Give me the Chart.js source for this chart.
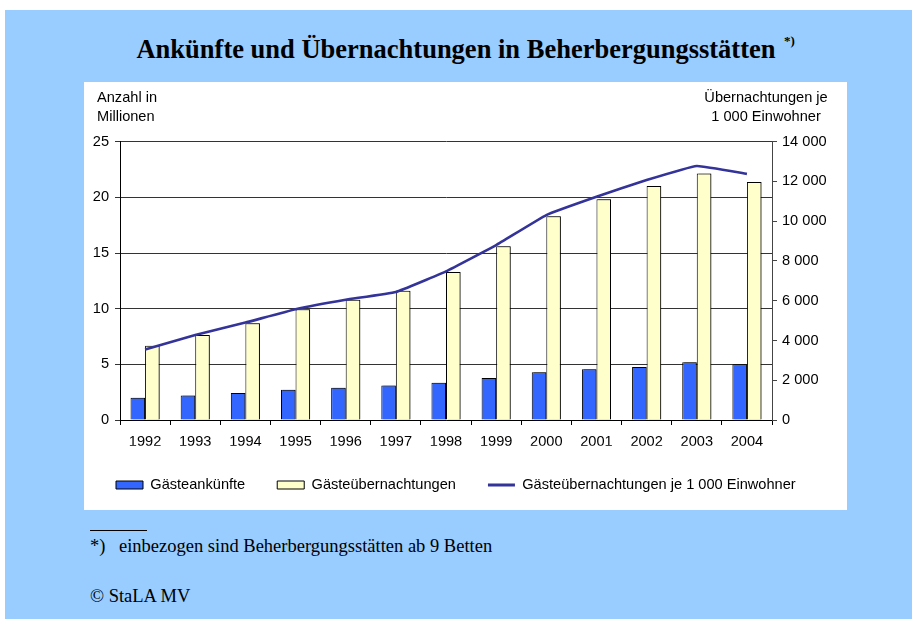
<!DOCTYPE html>
<html lang="de">
<head>
<meta charset="utf-8">
<title>Ankünfte und Übernachtungen in Beherbergungsstätten</title>
<script src="https://cdn.jsdelivr.net/npm/chart.js@4.4.1/dist/chart.umd.min.js"></script>
<style>
  body { margin: 0; width: 912px; height: 619px; background: #fff; position: relative; overflow: hidden; }
  #panel { position: absolute; left: 5px; top: 10px; width: 907px; height: 609px; background: #99ccff; }
  .serif { position: absolute; font-family: "Liberation Serif", "Times New Roman", serif; color: #000; white-space: nowrap; }
  #title { left: 0; width: 912px; top: 36px; text-align: center; font-weight: bold; font-size: 26.5px; line-height: 26.5px; }
  #titleNote { left: 784px; top: 34px; font-weight: bold; font-size: 13px; line-height: 13px; }
  #box { position: absolute; left: 84px; top: 82px; width: 763px; height: 428px; background: #fff; }
  #rule { position: absolute; left: 90px; top: 530px; width: 57px; border-top: 1px solid #000; }
  #noteMark { left: 90px; top: 536.5px; font-size: 18.5px; line-height: 18.5px; }
  #note { left: 119px; top: 536.5px; font-size: 18.5px; line-height: 18.5px; }
  #copy { left: 90px; top: 587px; font-size: 18.5px; line-height: 18.5px; }
</style>
</head>
<body>
<div id="panel"></div>
<div id="title" class="serif">Ankünfte und Übernachtungen in Beherbergungsstätten</div>
<div id="titleNote" class="serif">*)</div>
<div id="box"><canvas id="chart" width="763" height="428"></canvas></div>
<div id="rule"></div>
<div id="noteMark" class="serif">*)</div>
<div id="note" class="serif">einbezogen sind Beherbergungsstätten ab 9 Betten</div>
<div id="copy" class="serif">© StaLA MV</div>
<script>
const years = ['1992', '1993', '1994', '1995', '1996', '1997', '1998', '1999', '2000', '2001', '2002', '2003', '2004'];
// Mio.
const arrivals = [2.0, 2.2, 2.42, 2.72, 2.9, 3.11, 3.35, 3.77, 4.28, 4.55, 4.76, 5.18, 5.0];
const overnights = [6.67, 7.63, 8.7, 9.96, 10.8, 11.6, 13.3, 15.6, 18.3, 19.84, 21.03, 22.15, 21.37];
// je 1 000 Einwohner
const perThousand = [3550, 4280, 4900, 5570, 6050, 6440, 7480, 8800, 10310, 11230, 12070, 12780, 12380];

const leftTicks = [0, 5, 10, 15, 20, 25];
const rightTicks = [0, 2000, 4000, 6000, 8000, 10000, 12000, 14000];

const FONT = '"Liberation Sans", Arial, sans-serif';
Chart.defaults.font.family = FONT;
Chart.defaults.font.size = 14.6;
Chart.defaults.color = '#000';

const fmt = (v) => String(v).replace(/\B(?=(\d{3})+(?!\d))/g, ' ');

const extras = {
    id: 'extras',
    beforeDatasetDraw(chart, args) {
        if (chart.data.datasets[args.index].type !== 'bar') return;
        const ctx = chart.ctx;
        ctx.save();
        ctx.shadowColor = 'rgba(0, 0, 0, 0.45)';
        ctx.shadowOffsetX = 2;
        ctx.shadowOffsetY = 0;
        ctx.shadowBlur = 0;
    },
    afterDatasetDraw(chart, args) {
        if (chart.data.datasets[args.index].type !== 'bar') return;
        chart.ctx.restore();
    },
    afterDraw(chart) {
        const ctx = chart.ctx;
        ctx.save();
        ctx.font = '14.6px ' + FONT;
        ctx.fillStyle = '#000';
        ctx.textBaseline = 'alphabetic';
        ctx.textAlign = 'left';
        ctx.fillText('Anzahl in', 13, 19.7);
        ctx.fillText('Millionen', 13, 38.7);
        ctx.textAlign = 'center';
        ctx.fillText('Übernachtungen je', 682, 19.7);
        ctx.fillText('1 000 Einwohner', 682, 38.7);
        ctx.restore();
    },
};

new Chart(document.getElementById('chart').getContext('2d'), {
    type: 'bar',
    data: {
        labels: years,
        datasets: [
            {
                type: 'bar',
                label: 'Gästeankünfte',
                data: arrivals,
                yAxisID: 'y',
                backgroundColor: '#3366ff',
                borderColor: '#000',
                borderWidth: 1,
                categoryPercentage: 0.58,
                barPercentage: 1,
                order: 1,
            },
            {
                type: 'bar',
                label: 'Gästeübernachtungen',
                data: overnights,
                yAxisID: 'y',
                backgroundColor: '#ffffcc',
                borderColor: '#000',
                borderWidth: 1,
                categoryPercentage: 0.58,
                barPercentage: 1,
                order: 1,
            },
            {
                type: 'line',
                label: 'Gästeübernachtungen je 1 000 Einwohner',
                data: perThousand,
                yAxisID: 'y1',
                borderColor: '#333399',
                backgroundColor: '#333399',
                borderWidth: 2.6,
                pointRadius: 0,
                pointHoverRadius: 0,
                tension: 0.1,
                order: 0,
            },
        ],
    },
    options: {
        responsive: false,
        animation: false,
        layout: { padding: { top: 59.7, bottom: 7.7, left: 0, right: 0 } },
        scales: {
            x: {
                afterFit: (s) => { s.height = 25.7; },
                grid: { drawOnChartArea: false, drawTicks: true, tickLength: 5, color: '#000', offset: true },
                border: { color: '#000' },
                ticks: { padding: 8, maxRotation: 0 },
            },
            y: {
                position: 'left',
                min: 0,
                max: 25,
                afterFit: (s) => { s.width = 36; },
                afterBuildTicks: (s) => { s.ticks = leftTicks.map((v) => ({ value: v })); },
                grid: { color: '#333', tickLength: 5 },
                border: { color: '#000' },
                ticks: { padding: 6 },
            },
            y1: {
                position: 'right',
                min: 0,
                max: 14000,
                afterFit: (s) => { s.width = 75; },
                afterBuildTicks: (s) => { s.ticks = rightTicks.map((v) => ({ value: v })); },
                grid: { drawOnChartArea: false, color: '#444', tickLength: 5 },
                border: { color: '#444' },
                ticks: { padding: 5, callback: (v) => fmt(v) },
            },
        },
        plugins: {
            legend: {
                position: 'bottom',
                align: 'start',
                labels: {
                    usePointStyle: true,
                    pointStyleWidth: 27,
                    boxHeight: 8,
                    padding: 32,
                    color: '#000',
                    generateLabels(chart) {
                        const items = Chart.defaults.plugins.legend.labels.generateLabels(chart);
                        items.sort((a, b) => a.datasetIndex - b.datasetIndex);
                        items.forEach((it) => {
                            const isLine = chart.data.datasets[it.datasetIndex].type === 'line';
                            it.pointStyle = isLine ? 'line' : 'rect';
                            if (isLine) it.lineWidth = 3;
                        });
                        return items;
                    },
                },
            },
            tooltip: { enabled: false },
        },
    },
    plugins: [extras],
});
</script>
</body>
</html>
